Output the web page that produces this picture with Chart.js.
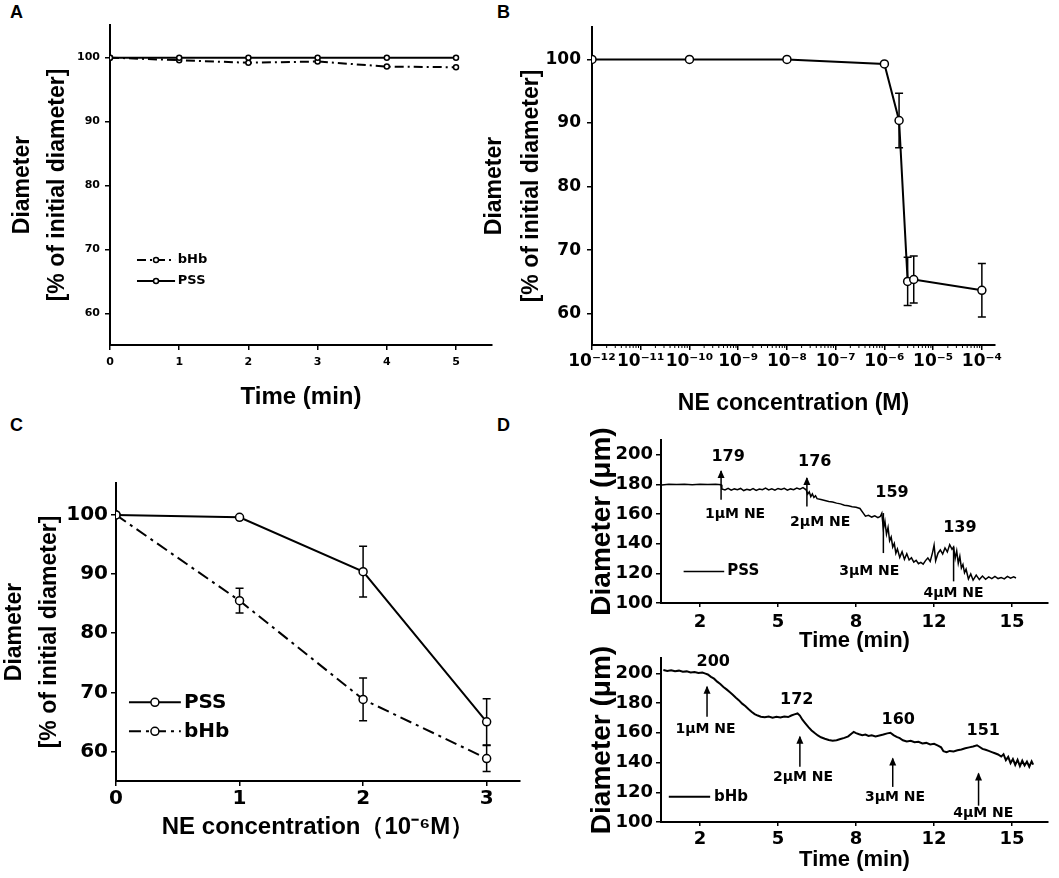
<!DOCTYPE html>
<html lang="en">
<head>
  <meta charset="UTF-8">
  <title>Diameter responses to NE in PSS and bHb</title>
  <style>
    body {
      margin: 0;
      width: 1059px;
      height: 878px;
      position: relative;
      overflow: hidden;
      background: #fff;
      font-family: "Liberation Sans", Arial, sans-serif;
    }
    .panel { position: absolute; }
    .tag {
      position: absolute;
      font: bold 18px "Liberation Sans", Arial, sans-serif;
      color: #000;
    }
  </style>
</head>
<body>

<div class="tag" style="left:10px;top:2px">A</div>
<div class="tag" style="left:497px;top:2px">B</div>
<div class="tag" style="left:10px;top:415px">C</div>
<div class="tag" style="left:497px;top:415px">D</div>

<div class="panel" style="left:0;top:0;width:500px;height:420px"><canvas id="chartA"></canvas></div>
<div class="panel" style="left:470px;top:0;width:589px;height:420px"><canvas id="chartB"></canvas></div>
<div class="panel" style="left:-6px;top:440px;width:536px;height:438px"><canvas id="chartC"></canvas></div>
<div class="panel" style="left:590px;top:420px;width:469px;height:235px"><canvas id="chartD1"></canvas></div>
<div class="panel" style="left:590px;top:640px;width:469px;height:238px"><canvas id="chartD2"></canvas></div>

<script src="https://cdn.jsdelivr.net/npm/chart.js"></script>
<script>
  // ---- panel A: time control ----
  const timeA = [0, 1, 2, 3, 4, 5];
  const pssA = [100, 100, 100, 100, 100, 100];
  const bhbA = [100, 99.6, 99.2, 99.4, 98.6, 98.5];
  const pctTicks = [60, 70, 80, 90, 100];

  // ---- panel B: NE dose response (log) ----
  const neConc = [1e-12, 1e-10, 1e-8, 1e-6, 2e-6, 3e-6, 4e-6, 1e-4];
  const neDiam = [100, 100, 100, 99.3, 90.4, 65.1, 65.4, 63.7];
  const neErr = [0, 0, 0, 0, 4.3, 3.8, 3.7, 4.2];
  const logTicks = [1e-12, 1e-11, 1e-10, 1e-9, 1e-8, 1e-7, 1e-6, 1e-5, 1e-4];
  const logTickLabels = ['10⁻¹²', '10⁻¹¹', '10⁻¹⁰', '10⁻⁹', '10⁻⁸', '10⁻⁷', '10⁻⁶', '10⁻⁵', '10⁻⁴'];

  // ---- panel C: PSS vs bHb ----
  const doseC = [0, 1, 2, 3];
  const pssC = [100, 99.6, 90.4, 65.0];
  const pssErrC = [0, 0, 4.3, 3.9];
  const bhbC = [100, 85.5, 68.8, 58.8];
  const bhbErrC = [0, 2.1, 3.6, 2.2];

  // ---- panel D: diameter traces (x = slot on the time axis) ----
  const timeTicks = ['2', '5', '8', '12', '15'];
  const umTicks = [100, 120, 140, 160, 180, 200];
  const doseText = ['1μM NE', '2μM NE', '3μM NE', '4μM NE'];

  const pssTraceX = [0.51, 0.60, 0.70, 0.80, 0.90, 1.00, 1.10, 1.20, 1.27,
    1.28, 1.32, 1.36, 1.40, 1.44, 1.48, 1.52, 1.56, 1.60, 1.64, 1.68, 1.72, 1.76, 1.80, 1.84, 1.88,
    1.92, 1.96, 2.00, 2.04, 2.08, 2.12, 2.16, 2.20, 2.24, 2.28, 2.32, 2.36,
    2.38, 2.40, 2.42, 2.44, 2.46, 2.48, 2.50, 2.55, 2.60, 2.65, 2.70, 2.75, 2.80, 2.85, 2.90, 2.95,
    3.00, 3.05, 3.09, 3.12, 3.16, 3.20, 3.24, 3.28, 3.31, 3.33,
    3.35, 3.37, 3.39, 3.41, 3.43, 3.45, 3.47, 3.49, 3.51, 3.53, 3.56, 3.59, 3.62, 3.65, 3.68, 3.71,
    3.74, 3.77, 3.80, 3.83, 3.86, 3.89, 3.92, 3.95, 3.98, 4.00, 4.02, 4.05, 4.08, 4.11, 4.14, 4.17,
    4.20, 4.23, 4.25,
    4.27, 4.29, 4.31, 4.33, 4.35, 4.37, 4.39, 4.41, 4.44, 4.47, 4.50, 4.54, 4.58, 4.62, 4.66, 4.70,
    4.74, 4.78, 4.82, 4.86, 4.90, 4.94, 4.98, 5.02, 5.05];
  const pssTraceY = [179.7, 180.1, 179.9, 180.2, 179.8, 180.1, 179.9, 180.2, 179.8,
    177.0, 176.3, 177.4, 176.1, 177.0, 176.5, 177.3, 175.9, 176.8, 176.2, 177.2, 176.0, 176.9, 176.4, 177.5, 176.3,
    177.0, 176.1, 177.3, 176.6, 177.4, 176.2, 177.0, 176.5, 177.6, 176.8, 177.9, 176.4,
    173.5, 175.0, 171.8, 173.6, 171.2, 172.4, 170.4, 169.8, 169.2, 168.5, 168.2, 167.4, 166.9, 166.0, 165.6, 165.0,
    164.6, 163.8, 160.8, 158.6, 159.2, 158.0, 158.8, 157.6, 158.4, 160.6,
    150.0, 155.2, 146.5, 151.0, 142.0, 144.5, 137.8, 140.2, 133.5, 136.4, 130.8, 134.6, 129.5, 133.2, 129.0, 130.5,
    127.6, 128.8, 126.5, 127.4, 126.2, 128.6, 130.4, 128.0, 134.0, 139.0, 128.5, 133.6, 135.8, 133.0, 137.2, 134.5,
    139.4, 136.2, 137.8,
    130.0, 135.2, 126.8, 131.5, 123.6, 126.0, 120.4, 122.8, 116.2, 119.6, 115.4, 118.8, 115.8, 118.2, 116.0, 117.6,
    116.4, 117.9, 116.5, 117.2, 116.3, 118.0, 116.8, 117.6, 116.9];

  const bhbTraceX = [0.53, 0.58, 0.63, 0.68, 0.73, 0.78, 0.83, 0.88, 0.93, 0.98, 1.03, 1.07, 1.10, 1.14, 1.18,
    1.22, 1.26, 1.30, 1.34, 1.38, 1.42, 1.46, 1.50, 1.54, 1.58, 1.62, 1.66, 1.70, 1.74, 1.78, 1.83, 1.88,
    1.93, 1.98, 2.03, 2.08, 2.13, 2.17, 2.21, 2.25, 2.28, 2.31, 2.35, 2.39, 2.43, 2.47, 2.51, 2.55, 2.60,
    2.65, 2.70, 2.75, 2.80, 2.85, 2.90, 2.94, 2.97, 3.00, 3.04, 3.08, 3.12, 3.16, 3.20, 3.25, 3.30, 3.35,
    3.40, 3.44, 3.48, 3.52, 3.56, 3.60, 3.65, 3.70, 3.75, 3.80, 3.85, 3.90, 3.95, 4.00, 4.05, 4.09, 4.12,
    4.16, 4.20, 4.25, 4.30, 4.35, 4.40, 4.45, 4.50, 4.55, 4.58, 4.62, 4.66, 4.70, 4.74, 4.78, 4.82, 4.86,
    4.89, 4.92, 4.95, 4.98, 5.01, 5.04, 5.07, 5.10, 5.13, 5.16, 5.19, 5.22, 5.25, 5.27];
  const bhbTraceY = [202.2, 201.6, 202.0, 201.4, 201.8, 201.0, 201.3, 200.6, 200.9, 200.2, 200.5, 199.8, 199.2, 197.6, 196.4,
    194.4, 192.8, 190.8, 189.2, 187.4, 185.6, 183.6, 181.8, 179.6, 178.0, 176.0, 174.2, 172.6, 171.6, 170.8, 170.4, 170.9,
    170.2, 170.7, 170.3, 171.0, 170.6, 171.6, 172.4, 173.0, 171.6, 169.0, 166.4, 163.8, 161.6, 159.8, 158.2, 157.0, 156.0,
    155.2, 154.6, 155.0, 155.8, 156.6, 157.6, 159.4, 160.6, 159.8, 159.0, 158.4, 158.8, 157.9, 158.3, 157.6, 158.2, 158.8,
    159.6, 160.0, 158.4, 157.2, 156.4, 155.0, 154.2, 154.6, 153.6, 153.9, 152.8, 153.2, 152.2, 152.6, 151.4, 150.2, 147.6,
    147.0, 147.8, 147.4, 148.2, 148.8, 149.6, 150.2, 150.8, 151.6, 150.6, 149.2, 148.6, 147.8, 147.0, 146.2, 145.4, 144.0,
    145.6, 141.6, 143.8, 139.6, 142.4, 138.4, 141.8, 137.6, 141.2, 138.0, 140.6, 137.2, 140.8, 138.6];

  const pssDoseAt = [1.27, 2.37, 3.35, 4.25];
  const pssPeak = ['179', '176', '159', '139'];
  const bhbDoseAt = [1.09, 2.28, 3.47, 4.57];
  const bhbPeak = ['200', '172', '160', '151'];

  const NUM = '"DejaVu Sans", sans-serif';
  const SANS = '"Liberation Sans", Arial, sans-serif';

  const xy = (xs, ys) => xs.map((x, i) => ({x: x, y: ys[i]}));

  // error bars, legends, minor log ticks and dose arrows
  const extras = {
    id: 'extras',
    beforeDatasetsDraw(chart, args, o) {
      const ctx = chart.ctx, ys = chart.scales.y;
      chart.data.datasets.forEach((ds, di) => {
        if (!ds.errors) return;
        const pts = chart.getDatasetMeta(di).data;
        ctx.save();
        ctx.strokeStyle = '#000';
        ctx.lineWidth = 1.5;
        ds.errors.forEach((e, i) => {
          if (!e) return;
          const x = pts[i].x, v = ds.data[i].y;
          const t = ys.getPixelForValue(v + e), b = ys.getPixelForValue(v - e);
          const c = o.cap || 4;
          ctx.beginPath();
          ctx.moveTo(x, t); ctx.lineTo(x, b);
          ctx.moveTo(x - c, t); ctx.lineTo(x + c, t);
          ctx.moveTo(x - c, b); ctx.lineTo(x + c, b);
          ctx.stroke();
        });
        ctx.restore();
      });
    },
    afterDraw(chart, args, o) {
      const ctx = chart.ctx, xs = chart.scales.x, ys = chart.scales.y;
      ctx.save();
      ctx.strokeStyle = '#000';
      ctx.fillStyle = '#000';

      if (o.minor) {
        ctx.lineWidth = 1;
        for (let e = -12; e <= -4; e++) {
          for (let k = 2; k <= 9; k++) {
            const v = k * Math.pow(10, e);
            if (v > xs.max) continue;
            const px = xs.getPixelForValue(v);
            ctx.beginPath();
            ctx.moveTo(px, xs.top);
            ctx.lineTo(px, xs.top + 3);
            ctx.stroke();
          }
        }
      }

      (o.legend || []).forEach(it => {
        const ds = chart.data.datasets[it.ds];
        const x1 = xs.getPixelForValue(it.x1), x2 = xs.getPixelForValue(it.x2);
        const y = ys.getPixelForValue(it.y);
        ctx.lineWidth = ds.borderWidth;
        ctx.setLineDash(ds.borderDash || []);
        ctx.beginPath();
        ctx.moveTo(x1, y); ctx.lineTo(x2, y);
        ctx.stroke();
        ctx.setLineDash([]);
        if (ds.pointRadius) {
          ctx.beginPath();
          ctx.arc((x1 + x2) / 2, y, ds.pointRadius, 0, Math.PI * 2);
          ctx.fillStyle = '#fff';
          ctx.fill();
          ctx.lineWidth = ds.pointBorderWidth;
          ctx.stroke();
          ctx.fillStyle = '#000';
        }
        ctx.font = o.legendFont;
        ctx.textAlign = 'left';
        ctx.textBaseline = 'middle';
        ctx.fillText(ds.label, xs.getPixelForValue(it.tx), y);
      });

      const m = o.marks;
      if (m) {
        ctx.textAlign = 'center';
        ctx.textBaseline = 'middle';
        m.at.forEach((at, i) => {
          const x = xs.getPixelForValue(at);
          const y1 = ys.getPixelForValue(m.from[i]), y2 = ys.getPixelForValue(m.to[i]);
          ctx.lineWidth = 1.5;
          ctx.beginPath();
          ctx.moveTo(x, y1); ctx.lineTo(x, y2);
          ctx.stroke();
          if (m.head[i]) {
            ctx.beginPath();
            ctx.moveTo(x, y2 - 1);
            ctx.lineTo(x - 3.5, y2 + 7);
            ctx.lineTo(x + 3.5, y2 + 7);
            ctx.closePath();
            ctx.fill();
          }
          ctx.font = 'bold 16px ' + NUM;
          ctx.fillText(m.peak[i], xs.getPixelForValue(m.peakX[i]), ys.getPixelForValue(m.peakY[i]));
          ctx.font = 'bold 14px ' + NUM;
          ctx.fillText(doseText[i], xs.getPixelForValue(m.doseX[i]), ys.getPixelForValue(m.doseY[i]));
        });
      }
      ctx.restore();
    }
  };
  Chart.register(extras);

  function axis(o) {
    return {
      type: o.type || 'linear',
      min: o.min,
      max: o.max,
      afterBuildTicks: s => { s.ticks = o.ticks.map(v => ({value: v})); },
      afterFit: s => {
        if (o.w) s.width = o.w;
        if (o.h) s.height = o.h;
      },
      grid: {drawOnChartArea: false, drawTicks: true, tickLength: o.tl || 5, color: '#000', lineWidth: 1.5},
      border: {display: true, color: '#000', width: 2},
      ticks: {
        color: '#000',
        font: {family: NUM, size: o.fs, weight: 'bold'},
        padding: o.pad,
        autoSkip: false,
        maxRotation: 0,
        callback: o.labels ? (v, i) => o.labels[i] : v => v
      },
      title: {
        display: true,
        text: o.title,
        color: '#000',
        font: {family: SANS, size: o.tfs, weight: 'bold', lineHeight: o.lh || 1.2},
        padding: o.tpad
      }
    };
  }

  function dotted(label, data, dash, r, extra) {
    return Object.assign({
      label: label,
      data: data,
      borderColor: '#000',
      borderWidth: 2,
      borderDash: dash,
      pointRadius: r,
      pointBorderWidth: 1.5,
      pointBackgroundColor: '#fff',
      pointBorderColor: '#000',
      tension: 0
    }, extra || {});
  }

  const base = (padding, scales, extrasOpts) => ({
    responsive: true,
    maintainAspectRatio: false,
    animation: false,
    events: [],
    layout: {padding: padding},
    plugins: {legend: {display: false}, tooltip: {enabled: false}, extras: extrasOpts},
    scales: scales
  });

  // A
  new Chart(document.getElementById('chartA'), {
    type: 'line',
    data: {datasets: [
      dotted('PSS', xy(timeA, pssA), [], 2.5),
      dotted('bHb', xy(timeA, bhbA), [9, 4, 2, 4], 2.5)
    ]},
    options: base({top: 25, right: 8, left: 0, bottom: 0}, {
      x: axis({min: 0, max: 5.52, ticks: timeA, fs: 11, pad: 6, h: 75,
        title: 'Time (min)', tfs: 24, tpad: {top: 0, bottom: 8}}),
      y: axis({min: 55.1, max: 105.1, ticks: pctTicks, fs: 11, pad: 5, w: 110,
        title: ['Diameter', '[% of initial diameter]'], tfs: 23, lh: 1.52, tpad: {top: 5, bottom: 0}})
    }, {
      legendFont: 'bold 13px ' + NUM,
      legend: [{ds: 1, x1: 0.39, x2: 0.94, y: 68.4, tx: 0.98}, {ds: 0, x1: 0.39, x2: 0.94, y: 65.1, tx: 0.98}]
    })
  });

  // B
  new Chart(document.getElementById('chartB'), {
    type: 'line',
    data: {datasets: [
      dotted('NE', xy(neConc, neDiam), [], 4, {errors: neErr})
    ]},
    options: base({top: 27, right: 64, left: 0, bottom: 0}, {
      x: axis({type: 'logarithmic', min: 1e-12, max: 1.86e-4, ticks: logTicks, labels: logTickLabels,
        fs: 17, pad: 1, h: 75, title: 'NE concentration (M)', tfs: 23, tpad: {top: 0, bottom: 3}}),
      y: axis({min: 55.1, max: 105.1, ticks: pctTicks, fs: 17, pad: 6, w: 122,
        title: ['Diameter', '[% of initial diameter]'], tfs: 23, lh: 1.6, tpad: {top: 6, bottom: 0}})
    }, {minor: true, cap: 4})
  });

  // C
  new Chart(document.getElementById('chartC'), {
    type: 'line',
    data: {datasets: [
      dotted('PSS', xy(doseC, pssC), [], 4, {errors: pssErrC}),
      dotted('bHb', xy(doseC, bhbC), [12, 5, 3, 5], 4, {errors: bhbErrC})
    ]},
    options: base({top: 43, right: 10, left: 0, bottom: 0}, {
      x: axis({min: 0, max: 3.27, ticks: doseC, fs: 20, pad: 1, h: 97,
        title: 'NE concentration（10⁻⁶M）', tfs: 24, tpad: {top: 0, bottom: 36}}),
      y: axis({min: 55, max: 105.4, ticks: pctTicks, fs: 20, pad: 3, w: 122,
        title: ['Diameter', '[% of initial diameter]'], tfs: 23, lh: 1.52, tpad: {top: 3, bottom: 0}})
    }, {
      cap: 4,
      legendFont: 'bold 20px ' + NUM,
      legend: [{ds: 0, x1: 0.105, x2: 0.525, y: 68.3, tx: 0.55}, {ds: 1, x1: 0.105, x2: 0.525, y: 63.4, tx: 0.55}]
    })
  });

  // D top: PSS trace
  new Chart(document.getElementById('chartD1'), {
    type: 'line',
    data: {datasets: [
      dotted('PSS', xy(pssTraceX, pssTraceY), [], 0, {borderWidth: 1.5})
    ]},
    options: base({top: 20, right: 11, left: 0, bottom: 0}, {
      x: axis({min: 0.5, max: 5.46, ticks: [1, 2, 3, 4, 5], labels: timeTicks, fs: 18, pad: 5, tl: 4, h: 52,
        title: 'Time (min)', tfs: 22, tpad: {top: 0, bottom: 1}}),
      y: axis({min: 100, max: 210, ticks: umTicks, fs: 18, pad: 3, w: 71,
        title: 'Diameter (μm)', tfs: 28, lh: 0.9, tpad: {top: 0, bottom: 0}})
    }, {
      legendFont: 'bold 15px ' + NUM,
      legend: [{ds: 0, x1: 0.79, x2: 1.31, y: 121.3, tx: 1.35}],
      marks: {
        at: pssDoseAt, peak: pssPeak,
        from: [169.7, 165.2, 133.7, 114.6], to: [189, 184.3, 160.7, 138], head: [true, true, false, false],
        peakX: [1.36, 2.47, 3.46, 4.33], peakY: [198.9, 195.5, 174.2, 150.6],
        doseX: [1.45, 2.54, 3.17, 4.25], doseY: [159.6, 154.4, 121.3, 106.7]
      }
    })
  });

  // D bottom: bHb trace
  new Chart(document.getElementById('chartD2'), {
    type: 'line',
    data: {datasets: [
      dotted('bHb', xy(bhbTraceX, bhbTraceY), [], 0, {borderWidth: 2})
    ]},
    options: base({top: 18, right: 11, left: 0, bottom: 0}, {
      x: axis({min: 0.5, max: 5.46, ticks: [1, 2, 3, 4, 5], labels: timeTicks, fs: 18, pad: 3, tl: 4, h: 56,
        title: 'Time (min)', tfs: 22, tpad: {top: 0, bottom: 5}}),
      y: axis({min: 100, max: 210.3, ticks: umTicks, fs: 18, pad: 3, w: 71,
        title: 'Diameter (μm)', tfs: 28, lh: 0.9, tpad: {top: 0, bottom: 0}})
    }, {
      legendFont: 'bold 15px ' + NUM,
      legend: [{ds: 0, x1: 0.60, x2: 1.13, y: 116.9, tx: 1.18}],
      marks: {
        at: bhbDoseAt, peak: bhbPeak,
        from: [170.8, 137.1, 123.6, 111], to: [191, 157.3, 142.7, 132.6], head: [true, true, true, true],
        peakX: [1.17, 2.24, 3.54, 4.63], peakY: [207.9, 182, 169, 161.3],
        doseX: [1.07, 2.32, 3.50, 4.63], doseY: [162.2, 130.3, 116.9, 106.1]
      }
    })
  });
</script>

</body>
</html>
